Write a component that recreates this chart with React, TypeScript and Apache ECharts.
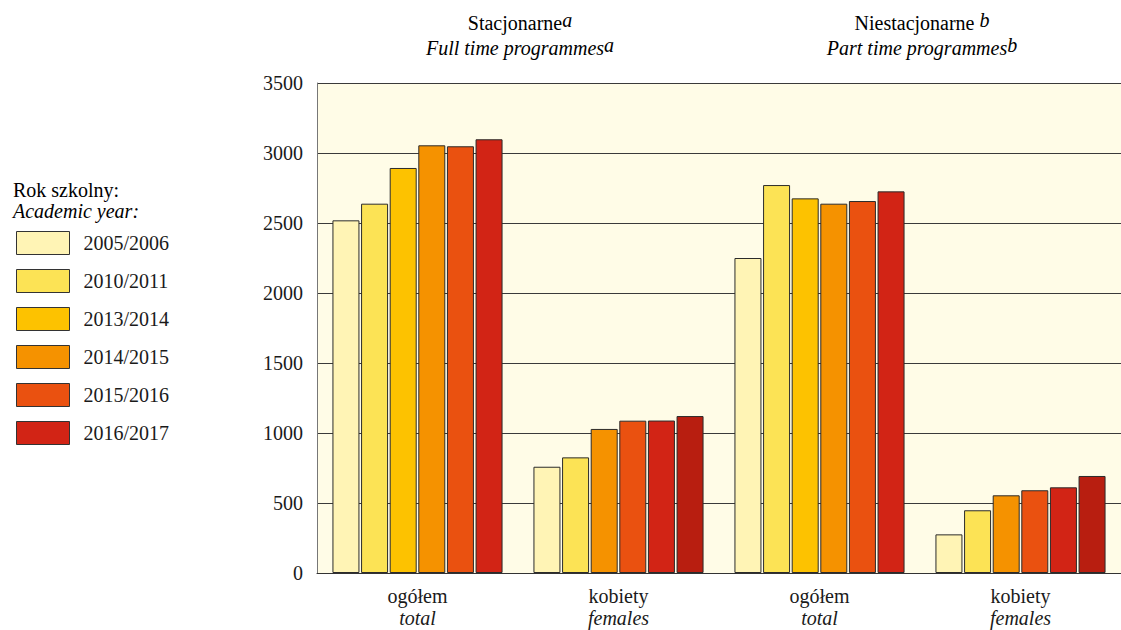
import React, { useEffect, useRef } from "react";
import * as echarts from "echarts";

const years = ["2005/2006", "2010/2011", "2013/2014", "2014/2015", "2015/2016", "2016/2017"];
const catPl = ["ogółem", "kobiety", "ogółem", "kobiety"];
const catEn = ["total", "females", "total", "females"];
const catIds = ["stac-ogolem", "stac-kobiety", "niestac-ogolem", "niestac-kobiety"];

// values per year, across the 4 categories
const v20052006 = [2519, 759, 2250, 276];
const v20102011 = [2638, 826, 2771, 448];
const v20132014 = [2893, 1029, 2676, 555];
const v20142015 = [3055, 1088, 2638, 591];
const v20152016 = [3048, 1089, 2657, 612];
const v20162017 = [3098, 1121, 2726, 693];
const seriesValues = [v20052006, v20102011, v20132014, v20142015, v20152016, v20162017];

const yearColors = ["#FFF4B5", "#FCE355", "#FDC200", "#F59200", "#EA5110", "#D22415"];
// colours used in the "kobiety" groups (as in the reference)
const femaleColors = ["#FFF4B5", "#FCE355", "#F59200", "#EA5110", "#D22415", "#B81E10"];

const FONT = '"Liberation Serif", "DejaVu Serif", serif';

export default function App() {
  const ref = useRef<HTMLDivElement>(null);
  useEffect(() => {
    document.body.style.margin = "0";
    const chart = echarts.init(ref.current!, null, { renderer: "svg" });
    const series = years.map((y, i) => ({
      name: y,
      type: "bar",
      barWidth: 27,
      barGap: "6%",
      itemStyle: { color: yearColors[i], borderColor: "#2b2b2b", borderWidth: 1 },
      data: seriesValues[i].map((v, c) =>
        c % 2 === 1 ? { value: v, itemStyle: { color: femaleColors[i] } } : v
      ),
    }));
    const titleRich = {
      m: { fontFamily: FONT, fontSize: 20, color: "#1a1a1a", lineHeight: 25 },
      i: { fontFamily: FONT, fontSize: 20, fontStyle: "italic", color: "#1a1a1a", lineHeight: 25 },
      s: { fontFamily: FONT, fontSize: 20, fontStyle: "italic", color: "#1a1a1a", lineHeight: 12, verticalAlign: "top" },
    };
    chart.setOption({
      animation: false,
      backgroundColor: "#ffffff",
      grid: {
        left: 317,
        right: -4,
        top: 83,
        bottom: 57,
        show: true,
        backgroundColor: "#FFFCE7",
        borderWidth: 0,
      },
      legend: {
        orient: "vertical",
        left: 16,
        top: 231,
        padding: 0,
        icon: "rect",
        itemWidth: 53,
        itemHeight: 23,
        itemGap: 14,
        itemStyle: { borderColor: "#333", borderWidth: 1 },
        textStyle: { fontFamily: FONT, fontSize: 20, color: "#1a1a1a", padding: [0, 0, 0, 9] },
        data: years,
      },
      xAxis: {
        type: "category",
        data: catIds,
        axisTick: { show: false },
        axisLine: { lineStyle: { color: "#333", width: 1 } },
        axisLabel: {
          margin: 12,
          interval: 0,
          formatter: (_v: string, idx: number) => `{a|${catPl[idx]}}\n{b|${catEn[idx]}}`,
          rich: {
            a: { fontFamily: FONT, fontSize: 20, color: "#1a1a1a", lineHeight: 22 },
            b: { fontFamily: FONT, fontSize: 20, fontStyle: "italic", color: "#1a1a1a", lineHeight: 22 },
          },
        },
      },
      yAxis: {
        type: "value",
        min: 0,
        max: 3500,
        interval: 500,
        axisLine: { show: true, lineStyle: { color: "#777", width: 1 } },
        axisTick: { show: false },
        axisLabel: {
          fontFamily: FONT,
          fontSize: 20,
          color: "#1a1a1a",
          margin: 14,
          formatter: (v: number) => String(v),
        },
        splitLine: { lineStyle: { color: "#3a3a3a", width: 1 } },
      },
      graphic: [
        {
          type: "text",
          x: 520,
          y: 10,
          style: {
            text: "{m|Stacjonarne}{s|a}\n{i|Full time programmes}{s|a}",
            rich: titleRich,
            textAlign: "center",
            textVerticalAlign: "top",
          },
        },
        {
          type: "text",
          x: 922,
          y: 10,
          style: {
            text: "{m|Niestacjonarne }{s|b}\n{i|Part time programmes}{s|b}",
            rich: titleRich,
            textAlign: "center",
            textVerticalAlign: "top",
          },
        },
        {
          type: "text",
          x: 13,
          y: 179,
          style: {
            text: "{m|Rok szkolny:}\n{i|Academic year:}",
            rich: {
              m: { fontFamily: FONT, fontSize: 20, color: "#1a1a1a", lineHeight: 21 },
              i: { fontFamily: FONT, fontSize: 20, fontStyle: "italic", color: "#1a1a1a", lineHeight: 21 },
            },
            textAlign: "left",
            textVerticalAlign: "top",
          },
        },
      ],
      series,
    });
    return () => chart.dispose();
  }, []);
  return <div ref={ref} style={{ width: 1121, height: 630 }} />;
}
